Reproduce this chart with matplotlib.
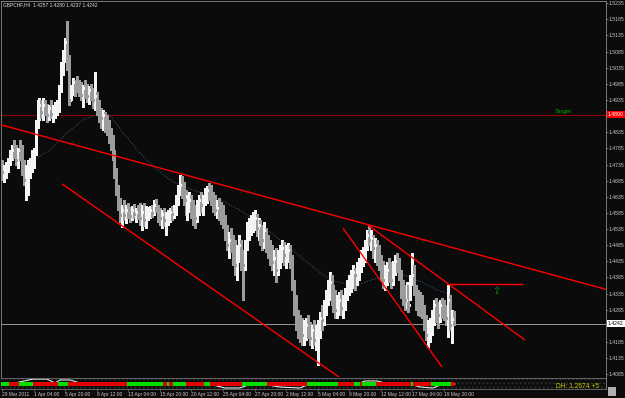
import numpy as np
import matplotlib
matplotlib.use("Agg")
import matplotlib.pyplot as plt
from matplotlib.patches import Rectangle

# GBPCHF H4 bars, prices in pips (4712 -> 1.4712)
first_open = 4730
highs = [
    4749, 4733, 4743, 4755, 4780, 4795, 4811, 4795, 4786, 4811,
    4795, 4749, 4733, 4749, 4755, 4780, 4786, 4873, 4935, 4941,
    4935, 4941, 4935, 4923, 4919, 4935, 4919, 4929, 4935, 4981,
    5053, 5090, 5127, 5180, 5074, 4981, 5003, 4997, 5009, 4997,
    4991, 4981, 4997, 4985, 4978, 4985, 4972, 5022, 4960, 4935,
    4910, 4904, 4898, 4888, 4873, 4848, 4827, 4780, 4724, 4671,
    4631, 4610, 4625, 4610, 4616, 4603, 4606, 4613, 4600, 4610,
    4616, 4610, 4616, 4606, 4603, 4606, 4610, 4625, 4628, 4610,
    4600, 4594, 4600, 4588, 4594, 4600, 4606, 4610, 4640, 4671,
    4702, 4699, 4681, 4656, 4640, 4650, 4640, 4625, 4610, 4625,
    4640, 4650, 4640, 4662, 4668, 4678, 4671, 4650, 4640, 4625,
    4631, 4620, 4610, 4579, 4548, 4526, 4538, 4517, 4501, 4486,
    4517, 4501, 4470, 4501, 4557, 4569, 4579, 4588, 4594, 4582,
    4569, 4563, 4548, 4557, 4538, 4517, 4501, 4486, 4470, 4476,
    4470, 4486, 4501, 4495, 4486, 4492, 4486, 4455, 4377, 4331,
    4284, 4269, 4259, 4253, 4259, 4269, 4247, 4238, 4253, 4238,
    4253, 4278, 4300, 4315, 4346, 4377, 4402, 4393, 4362, 4346,
    4331, 4340, 4346, 4331, 4352, 4377, 4393, 4408, 4424, 4414,
    4433, 4445, 4470, 4480, 4501, 4532, 4548, 4532, 4517, 4507,
    4501, 4486, 4455, 4436, 4424, 4433, 4445, 4433, 4436, 4455,
    4461, 4445, 4408, 4377, 4362, 4371, 4362, 4393, 4461, 4424,
    4362, 4346, 4340, 4331, 4300, 4269, 4253, 4259, 4284, 4315,
    4321, 4309, 4315, 4321, 4315, 4300, 4362, 4331, 4284, 4280,
]
lows = [
    4687, 4681, 4693, 4712, 4733, 4749, 4755, 4733, 4724, 4749,
    4702, 4671, 4625, 4640, 4693, 4712, 4724, 4764, 4848, 4873,
    4879, 4873, 4888, 4867, 4873, 4879, 4867, 4879, 4888, 4898,
    4960, 5012, 5053, 5028, 4919, 4935, 4950, 4947, 4960, 4947,
    4935, 4913, 4941, 4929, 4923, 4935, 4910, 4904, 4888, 4867,
    4848, 4842, 4836, 4827, 4802, 4780, 4749, 4693, 4640, 4594,
    4557, 4541, 4563, 4554, 4569, 4557, 4563, 4569, 4557, 4566,
    4548, 4532, 4544, 4538, 4563, 4569, 4572, 4579, 4588, 4557,
    4548, 4538, 4544, 4517, 4548, 4557, 4563, 4569, 4579, 4610,
    4640, 4631, 4610, 4579, 4563, 4588, 4569, 4548, 4538, 4557,
    4579, 4588, 4579, 4610, 4616, 4625, 4610, 4588, 4579, 4569,
    4563, 4552, 4538, 4501, 4470, 4445, 4464, 4424, 4393, 4377,
    4433, 4408, 4315, 4408, 4470, 4501, 4517, 4526, 4532, 4513,
    4501, 4486, 4470, 4476, 4464, 4445, 4424, 4408, 4393, 4371,
    4393, 4414, 4433, 4424, 4414, 4433, 4414, 4346, 4269, 4222,
    4197, 4185, 4176, 4176, 4191, 4197, 4176, 4166, 4176, 4160,
    4114, 4197, 4222, 4238, 4269, 4300, 4315, 4300, 4278, 4259,
    4259, 4269, 4269, 4259, 4284, 4315, 4331, 4340, 4352, 4346,
    4362, 4377, 4402, 4420, 4433, 4470, 4486, 4470, 4445, 4433,
    4424, 4408, 4377, 4352, 4346, 4362, 4371, 4352, 4362, 4393,
    4402, 4377, 4321, 4300, 4284, 4290, 4278, 4315, 4362, 4331,
    4284, 4269, 4265, 4259, 4222, 4191, 4169, 4185, 4207, 4238,
    4247, 4228, 4247, 4259, 4253, 4238, 4200, 4222, 4182, 4237,
]
closes = [
    4712, 4718, 4733, 4749, 4764, 4780, 4774, 4749, 4780, 4764,
    4718, 4687, 4702, 4702, 4733, 4749, 4774, 4857, 4904, 4919,
    4898, 4919, 4904, 4888, 4910, 4892, 4898, 4910, 4923, 4966,
    5034, 5074, 5115, 5059, 4935, 4966, 4991, 4985, 4978, 4966,
    4950, 4972, 4960, 4947, 4966, 4950, 4935, 4947, 4910, 4888,
    4879, 4888, 4867, 4848, 4827, 4811, 4764, 4712, 4656, 4610,
    4579, 4594, 4579, 4594, 4585, 4575, 4594, 4582, 4588, 4579,
    4569, 4588, 4563, 4582, 4588, 4594, 4585, 4610, 4600, 4575,
    4569, 4582, 4563, 4569, 4579, 4588, 4582, 4594, 4625, 4656,
    4671, 4650, 4625, 4594, 4610, 4625, 4594, 4579, 4569, 4600,
    4625, 4610, 4631, 4640, 4656, 4640, 4625, 4610, 4594, 4600,
    4579, 4566, 4557, 4517, 4486, 4501, 4476, 4455, 4424, 4470,
    4486, 4433, 4424, 4486, 4532, 4548, 4557, 4563, 4569, 4538,
    4548, 4517, 4501, 4532, 4486, 4470, 4455, 4433, 4445, 4408,
    4455, 4470, 4476, 4455, 4464, 4470, 4433, 4362, 4300, 4253,
    4238, 4222, 4207, 4222, 4238, 4207, 4197, 4222, 4191, 4207,
    4222, 4259, 4253, 4300, 4331, 4346, 4371, 4331, 4315, 4284,
    4300, 4315, 4290, 4300, 4331, 4362, 4371, 4383, 4402, 4393,
    4414, 4424, 4455, 4470, 4486, 4517, 4501, 4507, 4476, 4486,
    4445, 4433, 4408, 4377, 4393, 4408, 4393, 4377, 4424, 4436,
    4433, 4393, 4346, 4331, 4315, 4346, 4300, 4371, 4393, 4346,
    4315, 4300, 4284, 4278, 4238, 4207, 4222, 4238, 4269, 4300,
    4284, 4269, 4300, 4284, 4269, 4259, 4315, 4238, 4257, 4242,
]

# dotted moving average (bar index, pips)
ma_idx = [0, 4, 15.7, 24.3, 32.9, 41.1, 49.7, 54.7, 61.3, 69.9, 78.6, 86.7,
          96.8, 108, 120.6, 133.3, 146, 156.1, 166.2, 172.8, 176.4, 183,
          191.6, 200.2, 206.8, 213.4, 220.5, 228.1]
ma_val = [4724, 4733, 4749, 4780, 4833, 4873, 4895, 4888, 4833, 4771, 4718,
          4681, 4656, 4634, 4594, 4538, 4476, 4424, 4377, 4368, 4355, 4368,
          4386, 4399, 4386, 4368, 4346, 4330]

# drawn objects: trend lines (bar index, pips)
trend_lines = [
    ((-0.5, 4858), (306.1, 4348)),
    ((30.4, 4675), (175.0, 4058)),
    ((172.8, 4538), (223.0, 4107)),
    ((185.5, 4547), (265.0, 4191)),
    ((226.6, 4365), (264.0, 4365)),
]
target_price = 1.4890
last_price = 1.4242
arrow_pos = (250.4, 4343)

time_labels = ["29 Mar 2011", "1 Apr 04:00", "5 Apr 20:00", "8 Apr 12:00",
               "13 Apr 04:00", "15 Apr 20:00", "20 Apr 12:00", "25 Apr 04:00",
               "27 Apr 20:00", "2 May 12:00", "5 May 04:00", "9 May 20:00",
               "12 May 12:00", "17 May 04:00", "19 May 20:00"]
price_levels = [1.4085 + 0.005 * k for k in range(24)]

# bottom indicator colour runs (start bar, end bar, colour)
ind_start = [0, 4, 9, 16, 29, 34, 64, 82, 84, 85, 87, 94, 103, 106, 122, 135,
             155, 171, 179, 182, 183, 190, 208, 209, 218, 228]
ind_end = [4, 9, 16, 29, 34, 64, 82, 84, 85, 87, 94, 103, 106, 122, 135, 155,
           171, 179, 182, 183, 190, 208, 209, 218, 228, 230]
ind_color = ["g", "r", "g", "r", "g", "r", "g", "r", "g", "r", "g", "r", "g",
             "r", "g", "r", "g", "r", "g", "r", "g", "r", "g", "r", "g", "r"]
# oscillator line of the indicator (0..1 of the sub window)
osc_idx = [0, 6.6, 15.7, 22.8, 26.9, 29.4, 34.5, 39.5, 53.2, 75, 107, 113,
           120.6, 124.7, 134.8, 140.9, 151, 154.6, 181.4, 184, 190, 194.1,
           206.8, 211.9, 218.4, 222, 229.6]
osc_val = [0.45, 0.55, 0.9, 0.9, 0.55, 0.82, 0.82, 0.55, 0.45, 0.45, 0.36,
           0.09, 0.09, 0.36, 0.36, 0.18, 0.09, 0.36, 0.55, 0.73, 0.73, 0.55,
           0.45, 0.18, 0.09, 0.36, 0.45]

BG = "#0b0b0b"
GRID = "#8c8c8c"
TXT = "#c8c8c8"
plt.rcParams["font.family"] = ["Liberation Sans", "DejaVu Sans"]
SMALL = 3.7

fig = plt.figure(figsize=(6.25, 3.98), dpi=100, facecolor=BG)
ax = fig.add_axes([1 / 625, 21 / 398, 605 / 625, 376 / 398], facecolor=BG)
sub = fig.add_axes([1 / 625, 9 / 398, 605 / 625, 11 / 398], facecolor=BG)

x = np.arange(len(closes))
c = 1 + np.array(closes) / 1e4
h = 1 + np.array(highs) / 1e4
lo = 1 + np.array(lows) / 1e4
o = np.concatenate([[1 + first_open / 1e4], c[:-1]])
cols = np.where(c >= o, "#f4f4f4", "#9c9c9c")

ax.axhline(target_price, color="#8b0000", lw=0.8, zorder=1)
ax.axhline(last_price, color="#9a9a9a", lw=0.7, zorder=1)
ax.plot(ma_idx, 1 + np.array(ma_val) / 1e4, color="#2f4d6b", lw=0.7,
        ls=(0, (1.5, 1.5)), zorder=2)

ax.vlines(x, lo, h, colors=cols, lw=0.75, antialiased=False, zorder=3)
ax.hlines(o, x - 0.5, x, colors=cols, lw=0.75, antialiased=False, zorder=3)
ax.hlines(c, x, x + 0.5, colors=cols, lw=0.75, antialiased=False, zorder=3)

for (x0, p0), (x1, p1) in trend_lines:
    ax.plot([x0, x1], [1 + p0 / 1e4, 1 + p1 / 1e4], color="#ff0000", lw=1.0,
            zorder=4, solid_capstyle="butt")

ax.text(arrow_pos[0], 1 + arrow_pos[1] / 1e4, "\u21e7", color="#00a000",
        fontsize=7, ha="center", va="center", family="DejaVu Sans", zorder=5)
ax.text(280, target_price + 0.0003, "Target", color="#00b000", fontsize=4.4,
        ha="left", va="bottom", zorder=5)

ax.set_xlim(-0.507, 306.1)
ax.set_ylim(1.40763, 1.52419)
ax.set_xticks([])
ax.yaxis.tick_right()
ax.set_yticks(price_levels)
# the two levels under the price boxes are hidden, as on the terminal
ax.set_yticklabels(["" if min(abs(v - target_price), abs(v - last_price)) < 0.001
                    else f"{v:.4f}" for v in price_levels])
ax.tick_params(axis="y", colors=GRID, labelcolor=TXT, labelsize=SMALL,
               length=1.5, width=0.5, pad=0.6)
for side in ["left", "top", "right"]:
    ax.spines[side].set_color(GRID)
    ax.spines[side].set_linewidth(0.6)
ax.spines["bottom"].set_visible(False)

# price boxes on the axis
box = dict(boxstyle="square,pad=0.2", lw=0)
ax.text(1.0035, target_price, f"{target_price:.4f}", transform=ax.get_yaxis_transform(),
        fontsize=SMALL, color="white", va="center", ha="left", zorder=6, clip_on=False,
        bbox=dict(box, facecolor="#ff0000"))
ax.text(1.0035, last_price, f"{last_price:.4f}", transform=ax.get_yaxis_transform(),
        fontsize=SMALL, color="black", va="center", ha="left", zorder=6, clip_on=False,
        bbox=dict(box, facecolor="#ffffff"))

fig.text(3 / 625, 1 - 5 / 398, "GBPCHF,H4  1.4257 1.4280 1.4237 1.4242",
         color="#e0e0e0", fontsize=3.5, va="center", ha="left")

# indicator window
sub.add_patch(Rectangle((0, 0), 1, 1, transform=sub.transAxes, facecolor="none",
                        edgecolor="#2c2c2c", hatch="....", lw=0, zorder=0))
sub.plot(osc_idx, osc_val, color="#e8e8e8", lw=0.8, zorder=1)
for s, e, k in zip(ind_start, ind_end, ind_color):
    sub.fill_between([s - 0.5, e - 0.5], 0.25, 0.65,
                     color="#00e000" if k == "g" else "#e00000", lw=0, zorder=2)
sub.set_xlim(-0.507, 306.1)
sub.set_ylim(0, 1)
sub.set_yticks([])
sub.set_xticks(np.arange(len(time_labels)) * 16)
sub.set_xticklabels(time_labels)
for lab in sub.get_xticklabels():
    lab.set_ha("left")
sub.tick_params(axis="x", colors=GRID, labelcolor=TXT, labelsize=3.5, length=1.5,
                width=0.5, pad=0.8)
for side in ["top", "bottom"]:
    sub.spines[side].set_color("#707070")
    sub.spines[side].set_linestyle((0, (1, 1)))
    sub.spines[side].set_linewidth(0.6)
sub.spines["left"].set_visible(False)
sub.spines["right"].set_color(GRID)
sub.spines["right"].set_linewidth(0.6)

fig.text(556 / 625, 1 - 386.5 / 398, "DH: 1.2674 +5", color="#c8c800",
         fontsize=4.8, va="center", ha="left")
fig.patches.append(Rectangle((608 / 625, 1 - 396 / 398), 8 / 625, 9 / 398,
                             transform=fig.transFigure, facecolor="#b0b0b0",
                             edgecolor="none"))

fig.savefig("out.png", dpi=100, facecolor=BG)
